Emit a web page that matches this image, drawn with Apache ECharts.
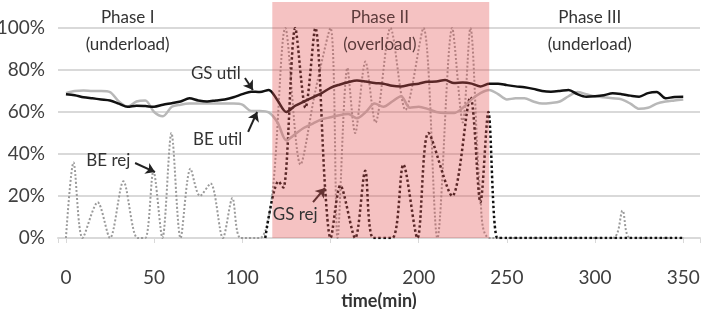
<!DOCTYPE html>
<html>
<head>
<meta charset="utf-8">
<script src="https://cdn.jsdelivr.net/npm/echarts@6/dist/echarts.min.js"></script>
<style>
  html, body { margin: 0; padding: 0; background: #fff; }
  #chart { width: 706px; height: 309px; }
</style>
</head>
<body>
<div id="chart"></div>
<script>
// utilisation, sampled every 5 min
const utilTime = [0, 5, 10, 15, 20, 25, 30, 35, 40, 45, 50, 55, 60, 65, 70, 75, 80, 85, 90, 95,
  100, 105, 110, 115, 120, 125, 130, 135, 140, 145, 150, 155, 160, 165, 170, 175, 180, 185, 190, 195,
  200, 205, 210, 215, 220, 225, 230, 235, 240, 245, 250, 255, 260, 265, 270, 275, 280, 285, 290, 295,
  300, 305, 310, 315, 320, 325, 330, 335, 340, 345, 350]
const gsUtil = [68.5, 68, 67, 66.5, 66, 65.5, 64, 62.5, 63, 62.8, 62.5, 63.5, 64.2, 65, 66.5, 65.5, 65, 65.5, 66, 67,
  68.5, 69.7, 69.5, 70.5, 65.5, 60, 63, 65, 67, 69, 71.5, 73, 74.2, 75, 74.5, 73.8, 73.5, 72.5, 72.2, 73,
  73.5, 74.4, 74.5, 75.2, 73.8, 74, 73.5, 72.2, 73.5, 73.5, 72.8, 72.2, 71.8, 71, 70, 69.7, 70, 70.5, 68.5, 67.3,
  67.5, 68, 68.9, 68.5, 67.8, 67.3, 69, 69.5, 66.5, 67.2, 67.3]
const beUtil = [69, 70, 70.2, 70, 70, 69.5, 65, 62.5, 65, 65.5, 60, 58, 62.5, 63.5, 64, 64, 64, 64, 64, 64,
  63.5, 60.5, 60.5, 59.8, 55, 46.5, 49.5, 52.5, 54.5, 56.5, 57.5, 58.5, 59, 57, 60, 64, 62.5, 65, 67.5, 62,
  62.5, 61.5, 60, 59.5, 59.5, 62, 66, 69, 70.5, 68.5, 66, 66.5, 66.5, 65, 64, 64.3, 65, 67.5, 69.5, 68.5,
  67.5, 67, 66.5, 66, 64, 61.5, 62, 64, 65, 65.5, 66]

// rejection rates
const beRejTime = [0, 4.3, 9.4, 18, 25, 32.6, 40.5, 45, 49.6, 54.7, 59.8, 65, 70.6, 76, 82, 89, 94.4, 99, 110,
  117, 124.4, 133, 141.4, 150, 154, 159.6, 164, 169.8, 175.5, 184, 192.5, 202.7, 210.6, 219, 225, 229.3, 235,
  240.6, 310, 315.6, 320, 350]
const beRej = [0, 36, 0, 17, 0, 27, 0, 0, 32, 0, 50, 0, 33, 20, 26, 0, 19, 0, 0,
  21, 100, 35, 70, 100, 0, 81, 50, 84, 55, 100, 61, 100, 0, 100, 55, 100, 20,
  0, 0, 13, 0, 0]
const gsRejTime = [113, 120.5, 123.3, 130, 135.8, 141.4, 147, 150, 155.6, 164, 169.7, 174.3, 185, 191.3, 199.3,
  205.5, 219, 229.3, 235, 239.5, 244.6, 250, 350]
const gsRej = [0, 27, 24, 100, 62, 100, 23, 0, 25, 0, 32, 0, 0, 35, 0,
  50, 20, 67, 17, 60, 0, 0, 0]

// overload window (min) and labels
const phase2 = [117, 240]
const xTicks = [0, 50, 100, 150, 200, 250, 300, 350]

const notes = [
  { text: 'Phase I', at: [35, 104.8] },
  { text: '(underload)', at: [35, 91.9] },
  { text: 'Phase II', at: [178, 104.8], color: '#5c3b3b' },
  { text: '(overload)', at: [178, 91.9], color: '#5c3b3b' },
  { text: 'Phase III', at: [297, 104.8] },
  { text: '(underload)', at: [297, 91.9] },
  { text: 'GS util', at: [85, 78.1] },
  { text: 'BE util', at: [86, 46.7] },
  { text: 'BE rej', at: [24, 37.1] },
  { text: 'GS rej', at: [130, 11] }
]
const arrows = [
  [[101.5, 76.2], [106, 70.5]],
  [[103.3, 50.5], [108.4, 60]],
  [[39.2, 35.7], [50.5, 31.4]],
  [[140.1, 17.1], [146.9, 23.8]]
]

const zip = (xs, ys) => xs.map((x, i) => [x, ys[i]])
const font = 'Lato, "Open Sans", sans-serif'

const chart = echarts.init(document.getElementById('chart'))
const option = {
  animation: false,
  grid: { left: 58, right: 6, top: 28, bottom: 71, outerBoundsMode: 'none' },
  xAxis: {
    type: 'value',
    min: -4.5,
    max: 359.5,
    splitNumber: 7,
    name: 'time(min)',
    nameLocation: 'middle',
    nameGap: 54,
    nameTextStyle: { fontFamily: font, fontSize: 18, fontWeight: 'bold', color: '#333' },
    axisLine: { lineStyle: { color: '#d9d9d9', width: 2 } },
    axisTick: { show: true, length: 5, lineStyle: { color: '#d9d9d9' } },
    splitLine: { show: false },
    axisLabel: {
      margin: 30,
      fontFamily: font,
      fontSize: 19,
      color: '#404040',
      formatter: v => xTicks.indexOf(v) >= 0 ? v : ''
    }
  },
  yAxis: {
    type: 'value',
    min: 0,
    max: 100,
    interval: 20,
    axisLine: { show: false },
    axisTick: { show: false },
    splitLine: { lineStyle: { color: '#d9d9d9', width: 2 } },
    axisLabel: { margin: 13, fontFamily: font, fontSize: 19, color: '#404040', formatter: '{value}%' }
  },
  series: [
    {
      name: 'BE rej', type: 'line', data: zip(beRejTime, beRej),
      showSymbol: false, smooth: 0.3,
      lineStyle: { color: '#9a9a9a', width: 2, type: 'dotted' }
    },
    {
      name: 'GS rej', type: 'line', data: zip(gsRejTime, gsRej),
      showSymbol: false, smooth: 0.3,
      lineStyle: { color: '#111', width: 2.5, type: 'dotted' }
    },
    {
      name: 'BE util', type: 'line', data: zip(utilTime, beUtil),
      showSymbol: false, smooth: 0.3,
      lineStyle: { color: '#b8b8b8', width: 2.5 }
    },
    {
      name: 'GS util', type: 'line', data: zip(utilTime, gsUtil),
      showSymbol: false, smooth: 0.3,
      lineStyle: { color: '#111', width: 2.5 }
    },
    {
      name: 'overload', type: 'line', z: 5, silent: true, clip: false,
      data: [[phase2[0], 112.4], [phase2[1], 112.4]],
      showSymbol: false,
      lineStyle: { width: 0 },
      areaStyle: { color: 'rgba(225,80,80,0.35)', opacity: 1 },
      markLine: {
        silent: true,
        symbol: ['none', 'arrow'],
        symbolSize: 9,
        label: { show: false },
        lineStyle: { color: '#222', width: 2, type: 'solid' },
        data: arrows.map(a => [{ coord: a[0] }, { coord: a[1] }])
      }
    }
  ]
}
chart.setOption(option)

chart.setOption({
  graphic: notes.map(n => {
    const p = chart.convertToPixel({ gridIndex: 0 }, n.at)
    return {
      type: 'text', x: p[0], y: p[1], z: 20,
      style: {
        text: n.text, font: '17px ' + font, fill: n.color || '#333',
        align: 'center', verticalAlign: 'middle'
      }
    }
  })
})
</script>
</body>
</html>
